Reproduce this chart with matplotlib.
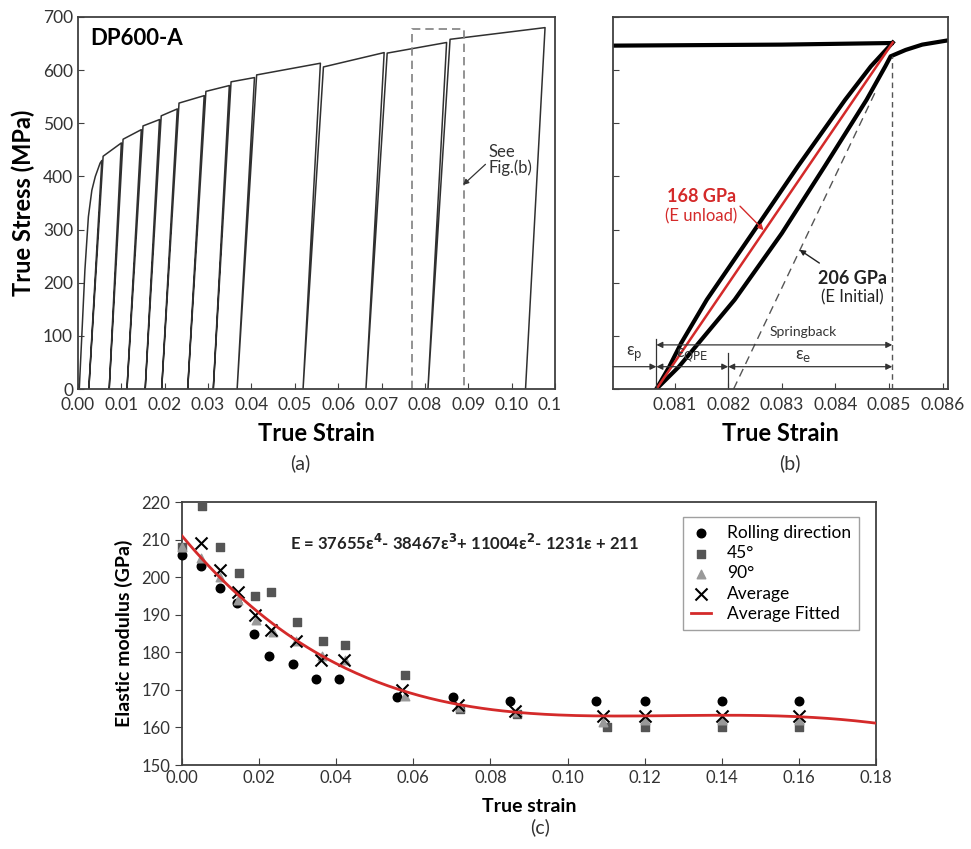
import numpy as np
import matplotlib.pyplot as plt
from matplotlib.transforms import Bbox, TransformedBbox

plt.rcParams['font.family'] = ['Lato', 'DejaVu Sans']

# ---- (a) cyclic loading / unloading, DP600-A ----
init_strain = [0.0003, 0.0010, 0.0016, 0.0024, 0.0032, 0.0040, 0.0051]
init_stress = [0, 120, 224, 324, 374, 400, 425]
peak_strain = [0.0055, 0.0100, 0.0146, 0.0188, 0.0229, 0.0291, 0.0349, 0.0407,
               0.0559, 0.0706, 0.0850, 0.1077]
peak_stress = [430, 463, 488, 507, 527, 552, 571, 586, 613, 633, 652, 680]
zero_strain = [0.0025, 0.0072, 0.0113, 0.0155, 0.0193, 0.0253, 0.0312, 0.0367,
               0.0519, 0.0664, 0.0807, 0.1032]
knee_strain = [0.0058, 0.0104, 0.0150, 0.0192, 0.0233, 0.0295, 0.0353, 0.0412,
               0.0566, 0.0713, 0.0858]
knee_stress = [438, 470, 495, 514, 538, 560, 578, 591, 606, 632, 658]
box_strain = [0.077, 0.077, 0.089, 0.089]
box_stress = [0, 678, 678, 0]

# ---- (b) zoom on the unload / reload loop ----
b_env_strain = [0.0797, 0.0830, 0.08505]
b_env_stress = [646, 648, 651]
b_unload_strain = [0.08507, 0.08466, 0.08418, 0.08330, 0.08245, 0.08160, 0.08112, 0.08090, 0.08066]
b_unload_stress = [652, 607, 544, 419, 293, 168, 86, 42, 0]
b_reload_strain = [0.08066, 0.08108, 0.08212, 0.08300, 0.08380, 0.08458, 0.08493, 0.08503,
                   0.08531, 0.08562, 0.0861]
b_reload_stress = [0, 42, 168, 293, 419, 544, 607, 626, 638, 648, 656]
b_red_strain = [0.08066, 0.08507]
b_red_stress = [0, 652]
b_init_strain = [0.0821, 0.08475]
b_init_stress = [0, 560]
b_eps_p, b_eps_q, b_eps_end = 0.08066, 0.0820, 0.08506

# ---- (c) elastic modulus vs strain ----
rd_strain = [0.000, 0.005, 0.0098, 0.0143, 0.0186, 0.0226, 0.0287, 0.0348, 0.0406,
             0.0557, 0.0703, 0.0851, 0.1075, 0.120, 0.140, 0.160]
rd_E = [206, 203, 197, 193, 185, 179, 177, 173, 173, 168, 168, 167, 167, 167, 167, 167]
d45_strain = [0.000, 0.0051, 0.0098, 0.0147, 0.0189, 0.0232, 0.0298, 0.0366, 0.0424,
              0.0578, 0.0722, 0.0870, 0.1103, 0.120, 0.140, 0.160]
d45_E = [208, 219, 208, 201, 195, 196, 188, 183, 182, 174, 165, 163.5, 160, 160, 160, 160]
d90_strain = [0.000, 0.005, 0.0099, 0.0146, 0.0193, 0.0235, 0.0296, 0.0362, 0.0422,
              0.0578, 0.0722, 0.0870, 0.1092, 0.120, 0.140, 0.160]
d90_E = [208, 205, 200, 194, 188.5, 185.5, 183, 179, 178, 168.5, 165.5, 164, 161.5, 162, 162, 162]
avg_strain = [0.005, 0.0099, 0.0146, 0.0189, 0.0232, 0.0296, 0.0361, 0.0419, 0.0570,
              0.0717, 0.0863, 0.1093, 0.120, 0.140, 0.160]
avg_E = [209, 202, 196, 190, 186, 183, 178, 178, 170, 166, 164.5, 163, 163, 163, 163]
fit_coef = [37655, -38467, 11004, -1231, 211]   # as printed on the chart

RED = '#d42a2a'
SPINE = '#404040'
TXT = '#333333'

fig = plt.figure(figsize=(9.71, 8.49), dpi=100)
axA = fig.add_axes([0.0803, 0.5418, 0.4913, 0.4382])
axB = fig.add_axes([0.6313, 0.5418, 0.3450, 0.4382])
axC = fig.add_axes([0.1874, 0.0989, 0.7148, 0.3098])

for ax in (axA, axB, axC):
    for s in ax.spines.values():
        s.set_color(SPINE)
        s.set_linewidth(1.3)

# build the full cyclic path of (a)
path_x, path_y = list(init_strain), list(init_stress)
for i in range(len(peak_strain)):
    path_x += [peak_strain[i], zero_strain[i]]
    path_y += [peak_stress[i], 0]
    if i < len(knee_strain):
        path_x.append(knee_strain[i])
        path_y.append(knee_stress[i])

axA.plot(path_x, path_y, color='#303030', lw=1.1)
axA.plot(box_strain, box_stress, color='#808080', lw=1.2, ls=(0, (5, 3)))
axA.set_xlim(0, 0.11)
axA.set_ylim(0, 700)
axA.set_xticks(np.arange(0, 0.1101, 0.01))
axA.set_xticklabels([f"{v:.2f}" for v in np.arange(0, 0.1101, 0.01)])
axA.set_yticks(range(0, 701, 100))
axA.tick_params(direction='in', length=4, labelsize=12.5, labelcolor=TXT, color=SPINE)
axA.tick_params(axis='x', pad=6)
axA.set_xlabel('True Strain', fontsize=17, fontweight='bold', labelpad=6)
axA.set_ylabel('True Stress (MPa)', fontsize=17, fontweight='bold', labelpad=6)
axA.text(0.025, 0.925, 'DP600-A', transform=axA.transAxes, fontsize=16, fontweight='bold')
axA.annotate('See\nFig.(b)', xy=(0.0888, 384), xytext=(0.0946, 400),
             fontsize=12, color=TXT, ha='left', va='bottom', linespacing=1.0,
             arrowprops=dict(arrowstyle='-|>', color=TXT, lw=0.9, mutation_scale=8,
                             shrinkA=0, shrinkB=0, relpos=(0, 0.45)))
# the 0.11 label is cut by the panel edge in the original
lab = axA.xaxis.get_major_ticks()[-1].label1
lab.set_clip_on(True)
lab.set_clip_box(TransformedBbox(Bbox.from_extents(0, 0, 560 / 971, 1), fig.transFigure))

# (b)
axB.plot(b_env_strain, b_env_stress, color='black', lw=3)
axB.plot(b_unload_strain, b_unload_stress, color='black', lw=3)
axB.plot(b_reload_strain, b_reload_stress, color='black', lw=3)
axB.plot(b_red_strain, b_red_stress, color=RED, lw=1.8)
axB.plot(b_init_strain, b_init_stress, color='#555555', lw=1, ls=(0, (6, 4)))
axB.plot([b_eps_end, b_eps_end], [0, 626], color='#555555', lw=1, ls=(0, (4, 3)))
axB.plot([b_eps_p, b_eps_p], [0, 95], color=TXT, lw=0.9)
axB.plot([b_eps_q, b_eps_q], [0, 67], color=TXT, lw=0.9)
arw = dict(color=TXT, lw=0.9, mutation_scale=9, shrinkA=0, shrinkB=0)
axB.annotate('', xy=(b_eps_p, 83), xytext=(b_eps_end, 83), arrowprops=dict(arrowstyle='<|-|>', **arw))
axB.annotate('', xy=(b_eps_p, 42), xytext=(0.07985, 42), arrowprops=dict(arrowstyle='-|>', **arw))
axB.annotate('', xy=(b_eps_p, 42), xytext=(b_eps_q, 42), arrowprops=dict(arrowstyle='<|-|>', **arw))
axB.annotate('', xy=(b_eps_q, 42), xytext=(b_eps_end, 42), arrowprops=dict(arrowstyle='<|-|>', **arw))
axB.text(0.08339, 96, 'Springback', ha='center', va='bottom', fontsize=10, color=TXT)
axB.text(0.08025, 47, r'ε$_{\rm p}$', ha='center', va='bottom', fontsize=12, color=TXT)
axB.text(0.08133, 47, r'ε$_{\rm QPE}$', ha='center', va='bottom', fontsize=12, color=TXT)
axB.text(0.08339, 47, r'ε$_{\rm e}$', ha='center', va='bottom', fontsize=12, color=TXT)
axB.text(0.0815, 362, '168 GPa', ha='center', va='center', fontsize=13, fontweight='bold', color=RED)
axB.text(0.0815, 324, '(E unload)', ha='center', va='center', fontsize=12, color=RED)
axB.annotate('', xy=(0.08266, 299), xytext=(0.08222, 344),
             arrowprops=dict(arrowstyle='-|>', color=RED, lw=1, mutation_scale=8, shrinkA=0, shrinkB=0))
axB.text(0.08432, 208, '206 GPa', ha='center', va='center', fontsize=13, fontweight='bold', color='#222222')
axB.text(0.08432, 172, '(E Initial)', ha='center', va='center', fontsize=12, color='#222222')
axB.annotate('', xy=(0.08333, 262), xytext=(0.0837, 237),
             arrowprops=dict(arrowstyle='-|>', color='#222222', lw=1, mutation_scale=8, shrinkA=0, shrinkB=0))
axB.set_xlim(0.07985, 0.0861)
axB.set_ylim(0, 700)
axB.set_xticks([0.081, 0.082, 0.083, 0.084, 0.085, 0.086])
axB.set_xticklabels(['0.081', '0.082', '0.083', '0.084', '0.085', '0.086'])
axB.set_yticks(range(0, 701, 100))
axB.set_yticklabels([])
axB.tick_params(direction='in', length=4, labelsize=12.5, labelcolor=TXT, color=SPINE)
axB.tick_params(axis='x', pad=6)
axB.set_xlabel('True Strain', fontsize=17, fontweight='bold', labelpad=6)

# (c)
xs = np.linspace(0, 0.18, 200)
axC.scatter(rd_strain, rd_E, marker='o', s=38, color='black', label='Rolling direction', zorder=3, clip_on=False)
axC.scatter(d45_strain, d45_E, marker='s', s=30, color='#555555', label='45°', zorder=3, clip_on=False)
axC.scatter(d90_strain, d90_E, marker='^', s=38, color='#999999', label='90°', zorder=3, clip_on=False)
axC.scatter(avg_strain, avg_E, marker='x', s=75, color='black', linewidths=1.5, label='Average', zorder=4)
axC.plot(xs, np.polyval(fit_coef, xs), color=RED, lw=2, label='Average Fitted', zorder=5)
eq = (r'E = 37655ε$^{\mathbf{4}}$- 38467ε$^{\mathbf{3}}$+ '
      r'11004ε$^{\mathbf{2}}$- 1231ε + 211')
axC.text(0.0281, 209, eq, fontsize=12, fontweight='bold', va='center', color='#222222')
axC.set_xlim(0, 0.18)
axC.set_ylim(150, 220)
axC.set_xticks(np.arange(0, 0.1801, 0.02))
axC.set_xticklabels([f"{v:.2f}" for v in np.arange(0, 0.1801, 0.02)])
axC.set_yticks(range(150, 221, 10))
axC.tick_params(axis='x', direction='in', length=5, color=SPINE)
axC.tick_params(axis='y', direction='out', length=5, color=SPINE)
axC.tick_params(labelsize=12, labelcolor=TXT)
axC.set_xlabel('True strain', fontsize=14, fontweight='bold', labelpad=9)
axC.set_ylabel('Elastic modulus (GPa)', fontsize=14, fontweight='bold', labelpad=6)
leg = axC.legend(loc='upper right', bbox_to_anchor=(0.9755, 0.943), fontsize=12.5, fancybox=False,
                 edgecolor='#888888', handlelength=1.2, handletextpad=0.9, borderpad=0.45,
                 labelspacing=0.25, borderaxespad=0)
leg.get_frame().set_linewidth(1.0)

fig.text(300 / 971, 1 - 463 / 849, '(a)', ha='center', va='center', fontsize=14, color=TXT)
fig.text(790 / 971, 1 - 463 / 849, '(b)', ha='center', va='center', fontsize=14, color=TXT)
fig.text(540 / 971, 1 - 827 / 849, '(c)', ha='center', va='center', fontsize=14, color=TXT)

fig.savefig('out.png', dpi=100)
